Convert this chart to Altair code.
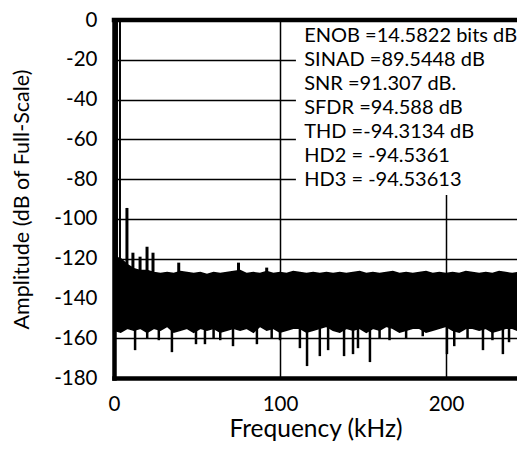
import altair as alt
import pandas as pd

# ---- data ----
band_f = [0, 4, 8, 12, 16, 20, 24, 28, 32, 36,
          40, 44, 48, 52, 56, 60, 64, 68, 72, 76,
          80, 84, 88, 92, 96, 100, 104, 108, 112, 116,
          120, 124, 128, 132, 136, 140, 144, 148, 152, 156,
          160, 164, 168, 172, 176, 180, 184, 188, 192, 196,
          200, 204, 208, 212, 216, 220, 224, 228, 232, 236,
          240, 243]
band_top = [-119, -120, -123, -125, -126, -126, -127, -127.5, -127, -127.5,
            -126.5, -127, -127.5, -127, -128, -127, -127.5, -127, -126.5, -126,
            -127.5, -127, -127.5, -126.5, -127.5, -127, -127.5, -126.5, -127, -127.5,
            -127, -127.5, -127, -127.5, -127, -127.5, -127, -126.5, -127.5, -127,
            -127.5, -127, -126.5, -127.5, -127, -127.5, -127, -126.5, -127.5, -127,
            -127.5, -127, -127.5, -126.5, -127, -127.5, -127, -127.5, -126.5, -127,
            -127.5, -127]
band_bot = [-156, -157, -155, -156, -155, -157, -155, -156, -154, -157,
            -156, -155, -157, -155, -156, -155, -157, -156, -155, -156,
            -155, -157, -154, -156, -155, -157, -156, -155, -155, -157,
            -156, -155, -154, -156, -157, -155, -156, -155, -157, -155,
            -156, -154, -155, -157, -156, -155, -155, -157, -156, -155,
            -154, -156, -157, -155, -155, -156, -155, -157, -156, -155,
            -155, -156]

tone_f = [1.8, 3.6]
tone_db = [0, 0]

spur_f = [7.8, 11.4, 15.7, 19.9, 23.5, 39.0, 75.0, 92.0]
spur_db = [-94.5, -117, -119, -114, -117, -122, -122, -124.5]

dip_f = [12.7, 20, 27, 34.9, 49.4, 54.8, 60, 64, 71.7, 86.1,
         95, 100, 112.0, 116.3, 124.0, 129.0, 138.6, 144.0, 147.0, 154.2,
         160, 166, 176, 186, 200.6, 205.0, 213, 222.3, 228, 234.3,
         238]
dip_db = [-166, -160, -161, -167, -163, -163, -160, -161, -164, -163,
          -160, -161, -165, -174, -169, -166, -169, -168, -165, -172,
          -160, -161, -160, -159, -168, -164, -160, -166, -161, -168,
          -162]

stats_lines = [
    "ENOB =14.5822 bits dB",
    "SINAD =89.5448 dB",
    "SNR =91.307 dB.",
    "SFDR =94.588 dB",
    "THD =-94.3134 dB",
    "HD2 = -94.5361",
    "HD3 = -94.53613",
]

x_ticks = [0, 100, 200]
y_ticks = [0, -20, -40, -60, -80, -100, -120, -140, -160, -180]
x_max = 242.8

# ---- tables ----
band = pd.DataFrame({"f": band_f, "top": band_top, "bot": band_bot})
tones = pd.DataFrame({"f": tone_f, "db": tone_db, "base": [-140] * len(tone_f)})
spurs = pd.DataFrame({"f": spur_f, "db": spur_db, "base": [-140] * len(spur_f)})
dips = pd.DataFrame({"f": dip_f, "db": dip_db, "base": [-150] * len(dip_f)})

xs = alt.Scale(domain=[0, x_max], nice=False, zero=False)
ys = alt.Scale(domain=[-180, 0], nice=False, zero=False)
xaxis = alt.Axis(values=x_ticks, title="Frequency (kHz)", labelPadding=16,
                 labelFlush=False, labelFontSize=20.5, titleFontSize=24.5,
                 titleBaseline="alphabetic", titleY=58)
yaxis = alt.Axis(values=y_ticks, title="Amplitude (dB of Full-Scale)",
                 labelExpr="datum.value + ''", labelPadding=17, labelFlush=False,
                 labelOverlap=False, labelFontSize=20.5, titleFontSize=21.5,
                 titleBaseline="middle", titleX=-92)


def X(field):
    return alt.X(field, type="quantitative", scale=xs, axis=xaxis)


def Y(field):
    return alt.Y(field, type="quantitative", scale=ys, axis=yaxis)


area = alt.Chart(band).mark_area(color="black", stroke="black", strokeWidth=1.5).encode(
    x=X("f"), y=Y("top"), y2="bot:Q"
)
tone_rules = alt.Chart(tones).mark_rule(color="black", strokeWidth=2).encode(
    x=X("f"), y=Y("db"), y2="base:Q"
)
spur_rules = alt.Chart(spurs).mark_rule(color="black", strokeWidth=3).encode(
    x=X("f"), y=Y("db"), y2="base:Q"
)
dip_rules = alt.Chart(dips).mark_rule(color="black", strokeWidth=2.5).encode(
    x=X("f"), y=Y("db"), y2="base:Q"
)

box = alt.Chart(band).mark_rect(fill="white", strokeWidth=0).encode(
    x=alt.datum(109.6, scale=xs, axis=xaxis), x2=alt.datum(x_max),
    y=alt.datum(-1, scale=ys, axis=yaxis), y2=alt.datum(-88),
).transform_filter("datum.f == 0")

stats = alt.Chart(band).mark_text(
    align="left", baseline="top", font="Lato", fontSize=20, lineHeight=23.9, color="black"
).encode(
    x=alt.datum(114.6, scale=xs, axis=xaxis), y=alt.datum(-3.2, scale=ys, axis=yaxis),
    text=alt.value(stats_lines)
).transform_filter("datum.f == 0")

top_border = alt.Chart(band).mark_rule(color="black", strokeWidth=4.5, strokeCap="square").encode(
    x=alt.datum(0, scale=xs, axis=xaxis), x2=alt.datum(x_max),
    y=alt.datum(0, scale=ys, axis=yaxis)
).transform_filter("datum.f == 0")

chart = alt.layer(area, tone_rules, spur_rules, dip_rules, box, stats, top_border).properties(
    width=403, height=358,
    autosize=alt.AutoSizeParams(type="none"),
    padding={"left": 106, "top": 12, "right": 0, "bottom": 63},
).configure_view(stroke=None).configure_axis(
    domainColor="black", domainWidth=4.5, domainCap="square",
    grid=True, gridColor="black", gridWidth=1.5, gridOpacity=1,
    ticks=False, labelOverlap=False,
    labelFont="Lato", labelColor="black",
    titleFont="Lato", titleFontWeight="normal", titleColor="black",
)

chart.save("out.html", embed_options={"renderer": "svg", "actions": False})
